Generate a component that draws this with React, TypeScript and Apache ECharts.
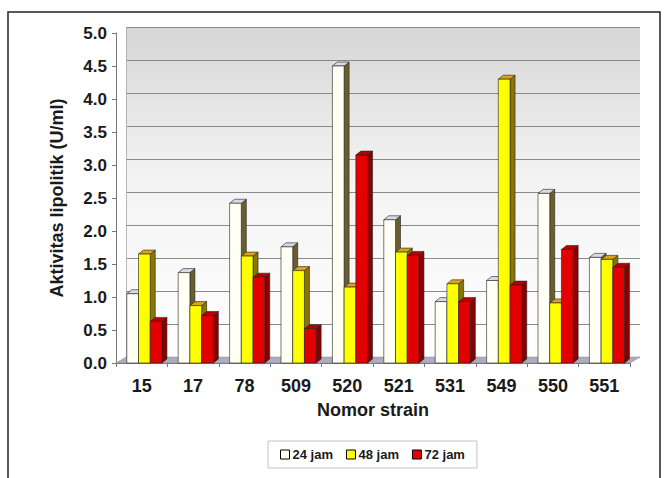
import React, { useEffect, useRef } from "react";
import * as echarts from "echarts";

const categories = ["15", "17", "78", "509", "520", "521", "531", "549", "550", "551"];
const seriesNames = ["24 jam", "48 jam", "72 jam"];
const values24 = [1.05, 1.37, 2.42, 1.76, 4.5, 2.17, 0.93, 1.25, 2.57, 1.6];
const values48 = [1.65, 0.87, 1.62, 1.4, 1.15, 1.68, 1.2, 4.3, 0.91, 1.57];
const values72 = [0.63, 0.72, 1.3, 0.52, 3.15, 1.63, 0.93, 1.18, 1.72, 1.45];

const faces = [
  { front: "#fffff4", side: "#6b5e2e", top: "#d6dae6" },
  { front: "#ffff00", side: "#8a7600", top: "#d8a41c" },
  { front: "#e20000", side: "#8a0000", top: "#b80000" },
];

const FONT = "'Liberation Sans', Arial, sans-serif";

function makeRender(sIdx: number) {
  const face = faces[sIdx];
  return (params: any, api: any) => {
    const cat = api.value(0);
    const val = api.value(1);
    const band = api.size([1, 0])[0];
    const bw = band * 0.228;
    const c0 = api.coord([cat, 0]);
    const c1 = api.coord([cat, val]);
    const x0 = c0[0] - band * 0.29 + sIdx * bw;
    const x1 = x0 + bw;
    const yb = c0[1];
    const yt = c1[1];
    const dx = 5;
    const dy = -4;
    const st = { stroke: "#222", lineWidth: 0.6 };
    return {
      type: "group",
      children: [
        {
          type: "polygon",
          shape: { points: [[x1, yt], [x1 + dx, yt + dy], [x1 + dx, yb + dy], [x1, yb]] },
          style: { fill: face.side, ...st },
        },
        {
          type: "polygon",
          shape: { points: [[x0, yt], [x0 + dx, yt + dy], [x1 + dx, yt + dy], [x1, yt]] },
          style: { fill: face.top, ...st },
        },
        {
          type: "rect",
          shape: { x: x0, y: yt, width: bw, height: yb - yt },
          style: { fill: face.front, ...st },
        },
      ],
    };
  };
}

export default function App() {
  const ref = useRef<HTMLDivElement>(null);
  useEffect(() => {
    if (!ref.current) return;
    const chart = echarts.init(ref.current, undefined, { renderer: "svg" });
    const allValues = [values24, values48, values72];
    const option: any = {
      animation: false,
      backgroundColor: "#ffffff",
      textStyle: { fontFamily: FONT },
      grid: [
        { left: 116, right: 36, top: 33, bottom: 115 },
        {
          left: 126,
          right: 26,
          top: 27,
          bottom: 121,
          show: true,
          borderWidth: 0,
          backgroundColor: new echarts.graphic.LinearGradient(0, 0, 0, 1, [
            { offset: 0, color: "#d6d6d6" },
            { offset: 0.45, color: "#f3f3f3" },
            { offset: 1, color: "#ffffff" },
          ]),
          z: 0,
        },
      ],
      xAxis: [
        {
          type: "category",
          gridIndex: 0,
          data: categories,
          axisLine: { lineStyle: { color: "#777", width: 1 } },
          axisTick: { show: true, length: 4, lineStyle: { color: "#777" } },
          axisLabel: { color: "#1a1a1a", fontSize: 18, fontWeight: "bold", fontFamily: FONT, margin: 14 },
          name: "Nomor strain",
          nameLocation: "middle",
          nameGap: 38,
          nameTextStyle: { color: "#1a1a1a", fontSize: 18, fontWeight: "bold", fontFamily: FONT },
        },
        {
          type: "category",
          gridIndex: 1,
          data: categories,
          show: false,
        },
      ],
      yAxis: [
        {
          type: "value",
          gridIndex: 0,
          min: 0,
          max: 5,
          interval: 0.5,
          axisLine: { show: true, lineStyle: { color: "#777" } },
          axisTick: { show: true, length: 4, lineStyle: { color: "#777" } },
          splitLine: { show: false },
          axisLabel: {
            color: "#1a1a1a",
            fontSize: 17,
            fontWeight: "bold",
            fontFamily: FONT,
            margin: 9,
            formatter: (v: number) => v.toFixed(1),
          },
          name: "Aktivitas lipolitik (U/ml)",
          nameLocation: "middle",
          nameGap: 50,
          nameTextStyle: { color: "#1a1a1a", fontSize: 18, fontWeight: "bold", fontFamily: FONT },
        },
        {
          type: "value",
          gridIndex: 1,
          min: 0,
          max: 5,
          interval: 0.5,
          axisLine: { show: true, lineStyle: { color: "#aaa", type: "dotted" } },
          axisTick: { show: false },
          axisLabel: { show: false },
          splitLine: { show: true, lineStyle: { color: "#8a8a8a", width: 1 } },
        },
      ],
      legend: {
        data: seriesNames,
        left: 268,
        top: 441,
        padding: [7, 12, 7, 12],
        borderColor: "#c4c4c4",
        borderWidth: 1,
        itemWidth: 9,
        itemHeight: 9,
        itemGap: 13,
        icon: "rect",
        itemStyle: { borderColor: "#000", borderWidth: 1 },
        textStyle: { color: "#1a1a1a", fontSize: 13, fontWeight: "bold", fontFamily: FONT, padding: [0, 0, 0, -2] },
      },
      graphic: [
        {
          type: "polygon",
          z: 1,
          shape: { points: [[116, 363], [126, 357], [640, 357], [630, 363]] },
          style: { fill: "#aeadc0", stroke: "#888", lineWidth: 0.5 },
        },
        {
          type: "polyline",
          z: 1,
          shape: { points: [[8, 478], [8, 12], [660, 12], [660, 478]] },
          style: { fill: "none", stroke: "#222", lineWidth: 1.5 },
        },
      ],
      series: allValues.map((vals, s) => ({
        type: "custom",
        name: seriesNames[s],
        xAxisIndex: 0,
        yAxisIndex: 0,
        z: 3,
        itemStyle: { color: faces[s].front },
        renderItem: makeRender(s),
        encode: { x: 0, y: 1 },
        data: vals.map((v, i) => [i, v]),
      })),
    };
    chart.setOption(option);
    return () => chart.dispose();
  }, []);
  return (
    <div
      ref={ref}
      style={{ position: "fixed", left: 0, top: 0, width: 666, height: 478 }}
    />
  );
}
